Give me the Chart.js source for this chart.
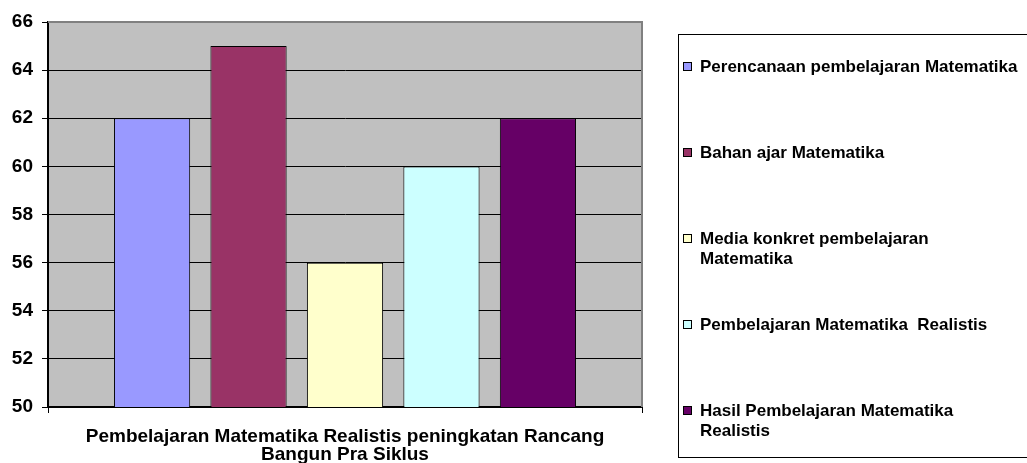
<!DOCTYPE html>
<html>
<head>
<meta charset="utf-8">
<script src="https://cdn.jsdelivr.net/npm/chart.js@4.4.1/dist/chart.umd.min.js"></script>
<style>
  html, body { margin: 0; padding: 0; background: #fff; }
  #wrap { width: 1027px; height: 463px; position: relative; }
</style>
</head>
<body>
<div id="wrap"><canvas id="chart"></canvas></div>
<script>
const categories = [["Pembelajaran Matematika Realistis peningkatan Rancang", "Bangun Pra Siklus"]];
const seriesNames = [
  "Perencanaan pembelajaran Matematika",
  "Bahan ajar Matematika",
  "Media konkret pembelajaran Matematika",
  "Pembelajaran Matematika  Realistis",
  "Hasil Pembelajaran Matematika Realistis",
];
const seriesValues = [62, 65, 56, 60, 62];
const seriesColors = ["#9999ff", "#993366", "#ffffcc", "#ccffff", "#660066"];
const yTicks = [50, 52, 54, 56, 58, 60, 62, 64, 66];

const fontFamily = "'Liberation Sans', Arial, sans-serif";

function wrapText(ctx, text, maxWidth) {
  const words = text.split(" ");
  const lines = [];
  let line = "";
  words.forEach((word) => {
    const test = line ? line + " " + word : word;
    if (line && ctx.measureText(test).width > maxWidth) {
      lines.push(line);
      line = word;
    } else {
      line = test;
    }
  });
  if (line) lines.push(line);
  return lines;
}

const plotBackground = {
  id: "plotBackground",
  beforeDraw(chart) {
    const { ctx, chartArea: a } = chart;
    ctx.save();
    ctx.fillStyle = "#c0c0c0";
    ctx.fillRect(a.left, a.top, a.right - a.left, a.bottom - a.top);
    ctx.restore();
  },
  afterDraw(chart) {
    const { ctx, chartArea: a } = chart;
    ctx.save();
    ctx.strokeStyle = "#808080";
    ctx.lineWidth = 2;
    ctx.beginPath();
    ctx.moveTo(a.left, a.top);
    ctx.lineTo(a.right, a.top);
    ctx.lineTo(a.right, a.bottom);
    ctx.stroke();
    ctx.restore();
  },
};

const boxLegend = {
  id: "boxLegend",
  afterDraw(chart) {
    const ctx = chart.ctx;
    ctx.save();
    ctx.strokeStyle = "#000";
    ctx.lineWidth = 1;
    ctx.strokeRect(678.5, 34.5, 420, 423);
    ctx.font = `bold 17px ${fontFamily}`;
    ctx.textBaseline = "middle";
    ctx.fillStyle = "#000";
    chart.data.datasets.forEach((ds, i) => {
      const y = 67 + i * 86;
      ctx.fillStyle = ds.backgroundColor;
      ctx.fillRect(683.5, y - 4.5, 8, 8);
      ctx.strokeStyle = "#000";
      ctx.strokeRect(683.5, y - 4.5, 8, 8);
      ctx.fillStyle = "#000";
      wrapText(ctx, ds.label, 321).forEach((line, j) => {
        ctx.fillText(line, 700, y + j * 20);
      });
    });
    ctx.restore();
  },
};

new Chart(document.getElementById("chart"), {
  type: "bar",
  data: {
    labels: categories,
    datasets: seriesNames.map((name, i) => ({
      label: name,
      data: [seriesValues[i]],
      backgroundColor: seriesColors[i],
      borderColor: "#000",
      borderWidth: 1,
      borderSkipped: false,
      categoryPercentage: 0.812,
      barPercentage: 0.79,
    })),
  },
  options: {
    responsive: true,
    maintainAspectRatio: false,
    animation: false,
    layout: { padding: { top: 22, right: 385, left: 0, bottom: 0 } },
    plugins: { legend: { display: false }, tooltip: { enabled: false } },
    scales: {
      x: {
        offset: true,
        grid: { display: true, drawOnChartArea: false, offset: true, color: "#000", tickLength: 6 },
        border: { color: "#000", width: 2 },
        ticks: { color: "#000", padding: 15, font: { family: fontFamily, weight: "bold", size: 19, lineHeight: "18px" } },
        afterFit: (scale) => { scale.height = 56; },
      },
      y: {
        min: yTicks[0],
        max: yTicks[yTicks.length - 1],
        afterBuildTicks: (scale) => { scale.ticks = yTicks.map((v) => ({ value: v })); },
        grid: {
          color: (c) => (c.tick && c.tick.value === 66 ? "#808080" : "#000"),
          tickColor: "#000",
          tickLength: 6,
        },
        border: { color: "#000", width: 2 },
        ticks: { color: "#000", padding: 9, font: { family: fontFamily, weight: "bold", size: 19 } },
        afterFit: (scale) => { scale.width = 48; },
      },
    },
  },
  plugins: [plotBackground, boxLegend],
});
</script>
</body>
</html>
